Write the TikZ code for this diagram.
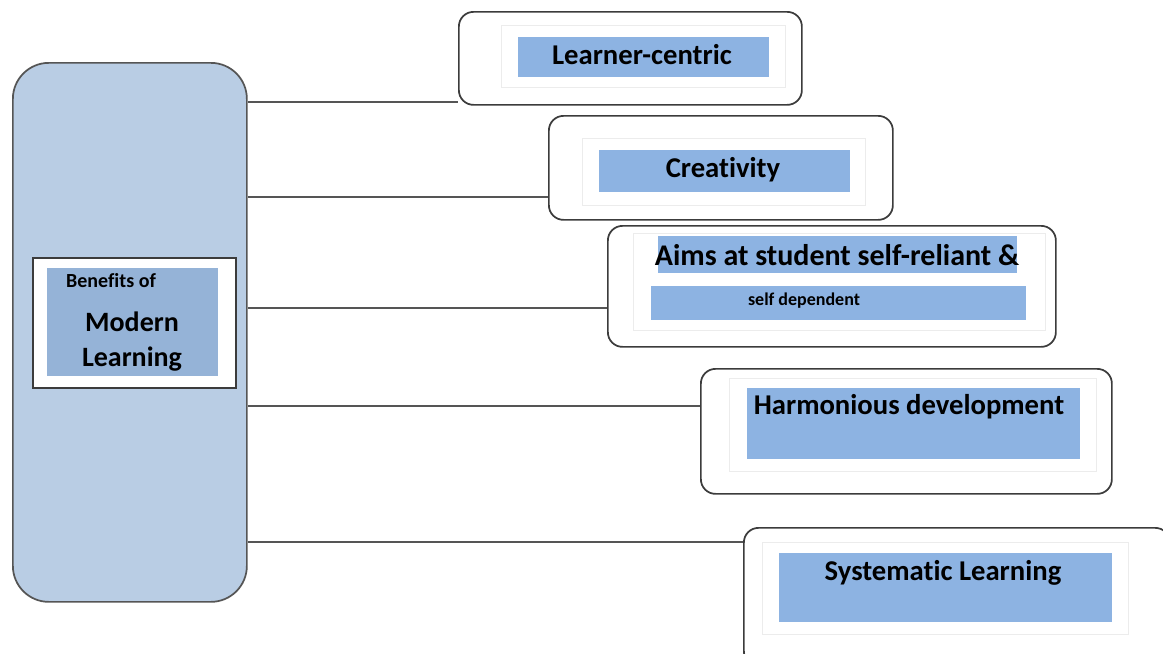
\documentclass[tikz,border=0pt]{standalone}
\usepackage{fontspec}
\setmainfont[Ligatures=NoCommon]{Carlito}
\usetikzlibrary{positioning}
\definecolor{panelblue}{RGB}{185,205,228}
\definecolor{titleblue}{RGB}{149,179,215}
\definecolor{barblue}{RGB}{141,179,226}
\definecolor{edgegray}{RGB}{60,60,60}
\definecolor{linkgray}{RGB}{85,85,85}
\definecolor{framegray}{RGB}{236,236,236}

\begin{document}
\begin{tikzpicture}[x=0.75pt,y=-0.75pt]
        \def\px{0.75pt}
        \tikzset{
           roundbox/.style={draw=edgegray, line width=1.3pt, rounded corners=11pt,
              fill=white, anchor=north west, inner sep=0pt},
           softframe/.style={draw=framegray, line width=0.9pt, anchor=north west, inner sep=0pt},
           bluebar/.style={fill=barblue, anchor=north west, inner sep=0pt},
           bigtext/.style={anchor=base, font=\bfseries\fontsize{21.5}{24}\selectfont, inner sep=0pt},
           link/.style={draw=linkgray, line width=1.8pt}
        }
        \useasboundingbox (0,0) rectangle (1163,653);

        % Left panel
        \node[roundbox, draw=linkgray, fill=panelblue, rounded corners=27pt,
              minimum width=234*\px, minimum height=539*\px] (panel) at (12,62) {};
        \node[draw=edgegray, line width=1.3pt, fill=white, anchor=north west, inner sep=0pt,
              minimum width=203*\px, minimum height=130*\px] (titleframe) at (32,257) {};
        \node[fill=titleblue, anchor=north west, inner sep=0pt,
              minimum width=171*\px, minimum height=108*\px] (titlebar) at (47,268) {};
        \node[anchor=base, inner sep=0pt, font=\bfseries\fontsize{15}{16}\selectfont] (benefits) at (111,287) {Benefits of};
        \node[anchor=base, inner sep=0pt, font=\bfseries\fontsize{21}{24}\selectfont] (modern) at (132,331) {Modern};
        \node[anchor=base, inner sep=0pt, font=\bfseries\fontsize{21}{24}\selectfont] (learning) at (132,366) {Learning};

        % Learner-centric
        \node[roundbox, minimum width=343*\px, minimum height=93*\px] (b1) at (458,11) {};
        \node[softframe, minimum width=284*\px, minimum height=62*\px] (f1) at (501,25) {};
        \node[bluebar, minimum width=251*\px, minimum height=40*\px] (bar1) at (518,37) {};
        \node[bigtext] (t1) at (642,64) {Learner-centric};

        % Creativity
        \node[roundbox, minimum width=344*\px, minimum height=104*\px] (b2) at (548,115) {};
        \node[softframe, minimum width=283*\px, minimum height=67*\px] (f2) at (582,138) {};
        \node[bluebar, minimum width=251*\px, minimum height=42*\px] (bar2) at (599,150) {};
        \node[bigtext] (t2) at (723,177) {Creativity};

        % Self-reliant
        \node[roundbox, minimum width=448*\px, minimum height=121*\px] (b3) at (607,225) {};
        \node[softframe, minimum width=412*\px, minimum height=97*\px] (f3) at (633,233) {};
        \node[bluebar, minimum width=359*\px, minimum height=37*\px] (bar3a) at (658,236) {};
        \node[bluebar, minimum width=375*\px, minimum height=34*\px] (bar3b) at (651,286) {};
        \node[bigtext, font=\bfseries\fontsize{22.5}{24}\selectfont] (t3a) at (837,265) {Aims at student self-reliant \&};
        \node[anchor=base, inner sep=0pt, font=\bfseries\fontsize{13.5}{14}\selectfont] (t3b) at (804,305) {self dependent};

        % Harmonious development
        \node[roundbox, minimum width=411*\px, minimum height=125*\px] (b4) at (700,368) {};
        \node[softframe, minimum width=367*\px, minimum height=93*\px] (f4) at (729,378) {};
        \node[bluebar, minimum width=333*\px, minimum height=71*\px] (bar4) at (747,388) {};
        \node[bigtext] (t4) at (909,414) {Harmonious development};

        % Systematic Learning
        \node[roundbox, minimum width=426*\px, minimum height=138*\px] (b5) at (743,527) {};
        \node[softframe, minimum width=366*\px, minimum height=92*\px] (f5) at (762,542) {};
        \node[bluebar, minimum width=333*\px, minimum height=69*\px] (bar5) at (779,553) {};
        \node[bigtext] (t5) at (943,580) {Systematic Learning};

        % Lines
        \coordinate (c1) at (b1.west |- 0,102);
        \coordinate (c2) at (b2.west |- 0,197);
        \coordinate (c3) at (b3.west |- 0,308);
        \coordinate (c4) at (b4.west |- 0,406);
        \coordinate (c5) at (b5.west |- 0,542);
        \draw[link] (panel.east |- c1) -- (c1);
        \draw[link] (panel.east |- c2) -- (c2);
        \draw[link] (panel.east |- c3) -- (c3);
        \draw[link] (panel.east |- c4) -- (c4);
        \draw[link] (panel.east |- c5) -- (c5);
\end{tikzpicture}
\end{document}
